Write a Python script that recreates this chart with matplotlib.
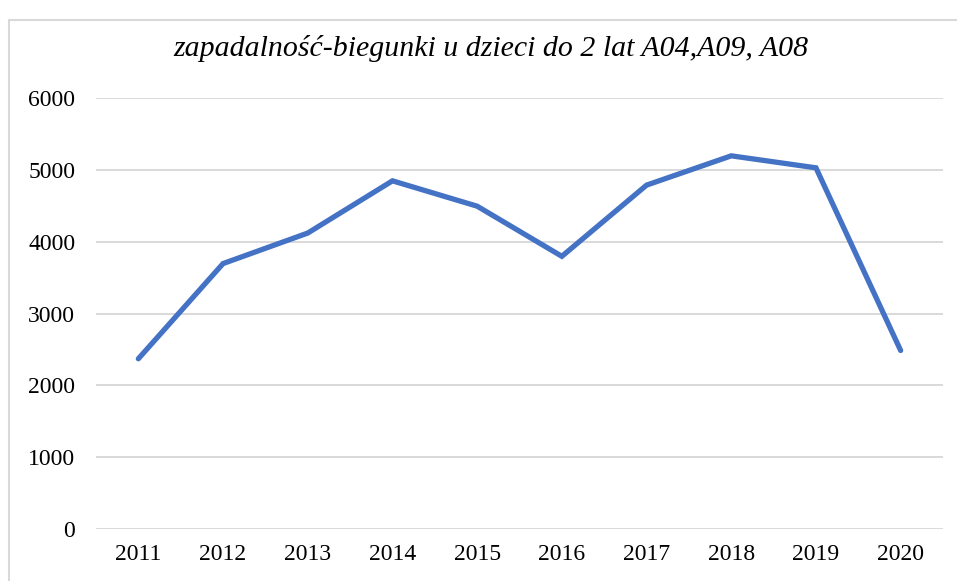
import matplotlib.pyplot as plt
from matplotlib.patches import Rectangle

years = ['2011', '2012', '2013', '2014', '2015', '2016', '2017', '2018', '2019', '2020']
cases = [2370, 3695, 4120, 4847, 4494, 3796, 4787, 5195, 5028, 2485]
yticks = [0, 1000, 2000, 3000, 4000, 5000, 6000]

plt.rcParams['font.family'] = ['Liberation Serif', 'DejaVu Serif']

fig = plt.figure(figsize=(9.57, 5.81), dpi=100)
# light frame around the chart area (cut off at right/bottom like the reference)
fig.patches.append(Rectangle((9 / 957, -0.05), 1.0, 1 - 20 / 581 + 0.05,
                             transform=fig.transFigure, fill=False,
                             edgecolor='#d9d9d9', linewidth=1.5))

ax = fig.add_axes([96 / 957, 1 - 529 / 581, (943 - 96) / 957, (529 - 98) / 581])
x = list(range(len(years)))
ax.plot(x, cases, color='#4472C4', linewidth=3.8, solid_capstyle='round',
        solid_joinstyle='miter', zorder=3)

ax.set_xlim(-0.5, len(years) - 0.5)
ax.set_ylim(0, 6000)
ax.set_yticks(yticks)
ax.set_xticks(x)
ax.set_xticklabels(years)
ax.grid(axis='y', color='#d9d9d9', linewidth=1.4)
ax.set_axisbelow(True)
for s in ax.spines.values():
    s.set_visible(False)
ax.tick_params(length=0, labelsize=17, colors='black')
ax.tick_params(axis='y', pad=15)
ax.tick_params(axis='x', pad=11)

fig.text(491 / 957, 1 - 48 / 581, 'zapadalność-biegunki u dzieci do 2 lat A04,A09, A08',
         ha='center', va='center', fontsize=21.5, style='italic')

fig.savefig('out.png', dpi=100)
